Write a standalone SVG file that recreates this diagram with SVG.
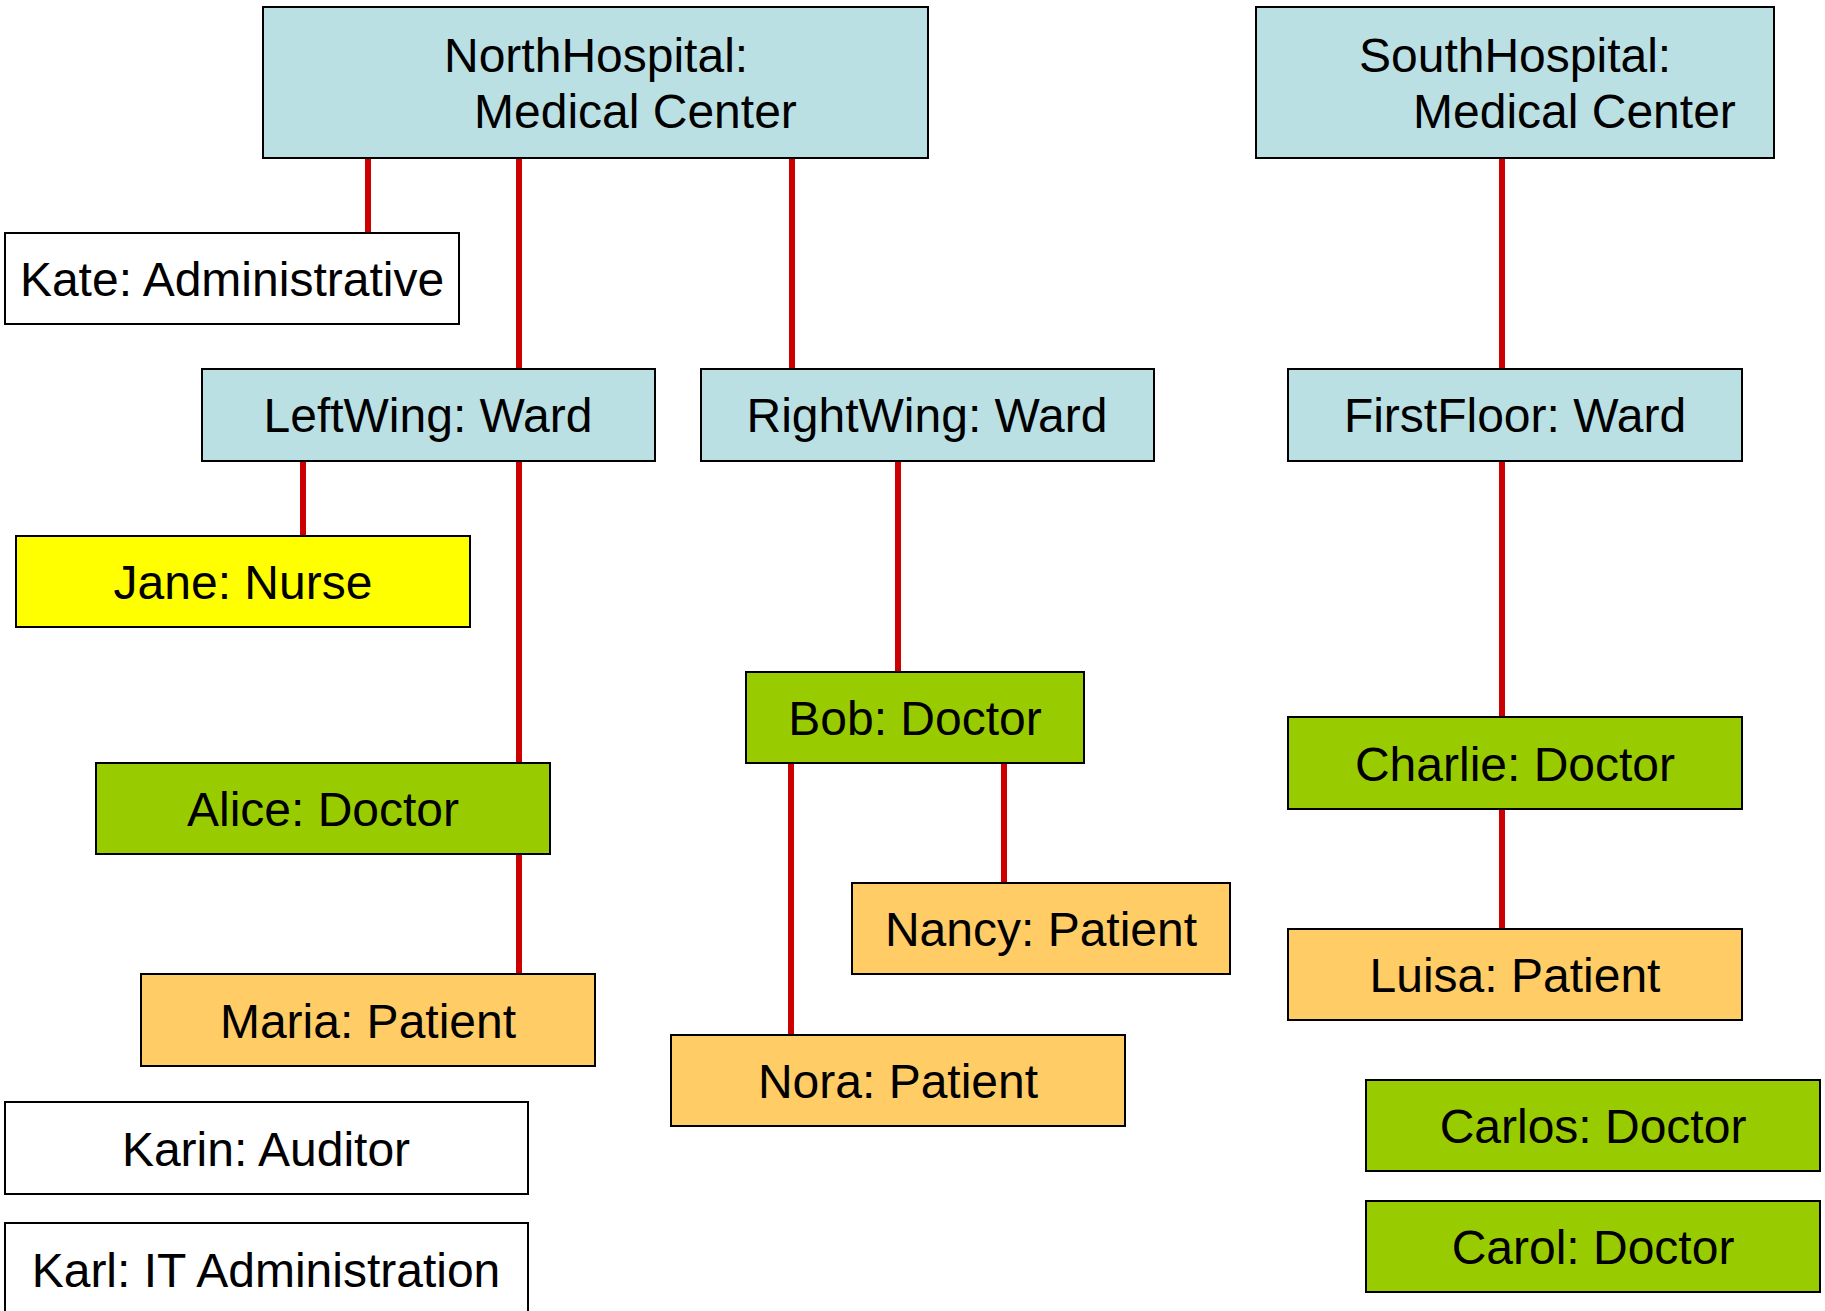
<svg xmlns="http://www.w3.org/2000/svg" width="1825" height="1311" viewBox="0 0 1825 1311">
<style>
.n{stroke:#000;stroke-width:2}
.ward{fill:#BBE0E3}
.doc{fill:#99CC00}
.pat{fill:#FFCC66}
.nur{fill:#FFFF00}
.oth{fill:#FFFFFF}
text{font-family:"Liberation Sans",Arial,sans-serif;font-size:48px;fill:#000}
.c{text-anchor:middle}
.e line{stroke:#CC0000;stroke-width:6}
</style>
<rect width="1825" height="1311" fill="#fff"/>
<g id="connectors" class="e">
<line x1="368" y1="158" x2="368" y2="233"/>
<line x1="519" y1="158" x2="519" y2="369"/>
<line x1="792" y1="158" x2="792" y2="369"/>
<line x1="1502" y1="158" x2="1502" y2="369"/>
<line x1="303" y1="461" x2="303" y2="536"/>
<line x1="519" y1="461" x2="519" y2="763"/>
<line x1="519" y1="854" x2="519" y2="974"/>
<line x1="898" y1="461" x2="898" y2="672"/>
<line x1="791" y1="763" x2="791" y2="1035"/>
<line x1="1004" y1="763" x2="1004" y2="883"/>
<line x1="1502" y1="461" x2="1502" y2="717"/>
<line x1="1502" y1="809" x2="1502" y2="929"/>
</g>
<g id="northhospital"><rect class="n ward" x="263" y="7" width="665" height="151"/><text x="444" y="72">NorthHospital:</text><text x="474" y="128">Medical Center</text></g>
<g id="southhospital"><rect class="n ward" x="1256" y="7" width="518" height="151"/><text x="1359" y="72">SouthHospital:</text><text x="1413" y="128">Medical Center</text></g>
<g id="kate"><rect class="n oth" x="5" y="233" width="454" height="91"/><text class="c" x="232" y="296">Kate: Administrative</text></g>
<g id="leftwing"><rect class="n ward" x="202" y="369" width="453" height="92"/><text class="c" x="428" y="432">LeftWing: Ward</text></g>
<g id="rightwing"><rect class="n ward" x="701" y="369" width="453" height="92"/><text class="c" x="927" y="432">RightWing: Ward</text></g>
<g id="firstfloor"><rect class="n ward" x="1288" y="369" width="454" height="92"/><text class="c" x="1515" y="432">FirstFloor: Ward</text></g>
<g id="jane"><rect class="n nur" x="16" y="536" width="454" height="91"/><text class="c" x="243" y="599">Jane: Nurse</text></g>
<g id="alice"><rect class="n doc" x="96" y="763" width="454" height="91"/><text class="c" x="323" y="826">Alice: Doctor</text></g>
<g id="bob"><rect class="n doc" x="746" y="672" width="338" height="91"/><text class="c" x="915" y="735">Bob: Doctor</text></g>
<g id="charlie"><rect class="n doc" x="1288" y="717" width="454" height="92"/><text class="c" x="1515" y="781">Charlie: Doctor</text></g>
<g id="nancy"><rect class="n pat" x="852" y="883" width="378" height="91"/><text class="c" x="1041" y="946">Nancy: Patient</text></g>
<g id="luisa"><rect class="n pat" x="1288" y="929" width="454" height="91"/><text class="c" x="1515" y="992">Luisa: Patient</text></g>
<g id="maria"><rect class="n pat" x="141" y="974" width="454" height="92"/><text class="c" x="368" y="1038">Maria: Patient</text></g>
<g id="nora"><rect class="n pat" x="671" y="1035" width="454" height="91"/><text class="c" x="898" y="1098">Nora: Patient</text></g>
<g id="karin"><rect class="n oth" x="5" y="1102" width="523" height="92"/><text class="c" x="266" y="1166">Karin: Auditor</text></g>
<g id="karl"><rect class="n oth" x="5" y="1223" width="523" height="95"/><text class="c" x="266" y="1287">Karl: IT Administration</text></g>
<g id="carlos"><rect class="n doc" x="1366" y="1080" width="454" height="91"/><text class="c" x="1593" y="1143">Carlos: Doctor</text></g>
<g id="carol"><rect class="n doc" x="1366" y="1201" width="454" height="91"/><text class="c" x="1593" y="1264">Carol: Doctor</text></g>
</svg>
